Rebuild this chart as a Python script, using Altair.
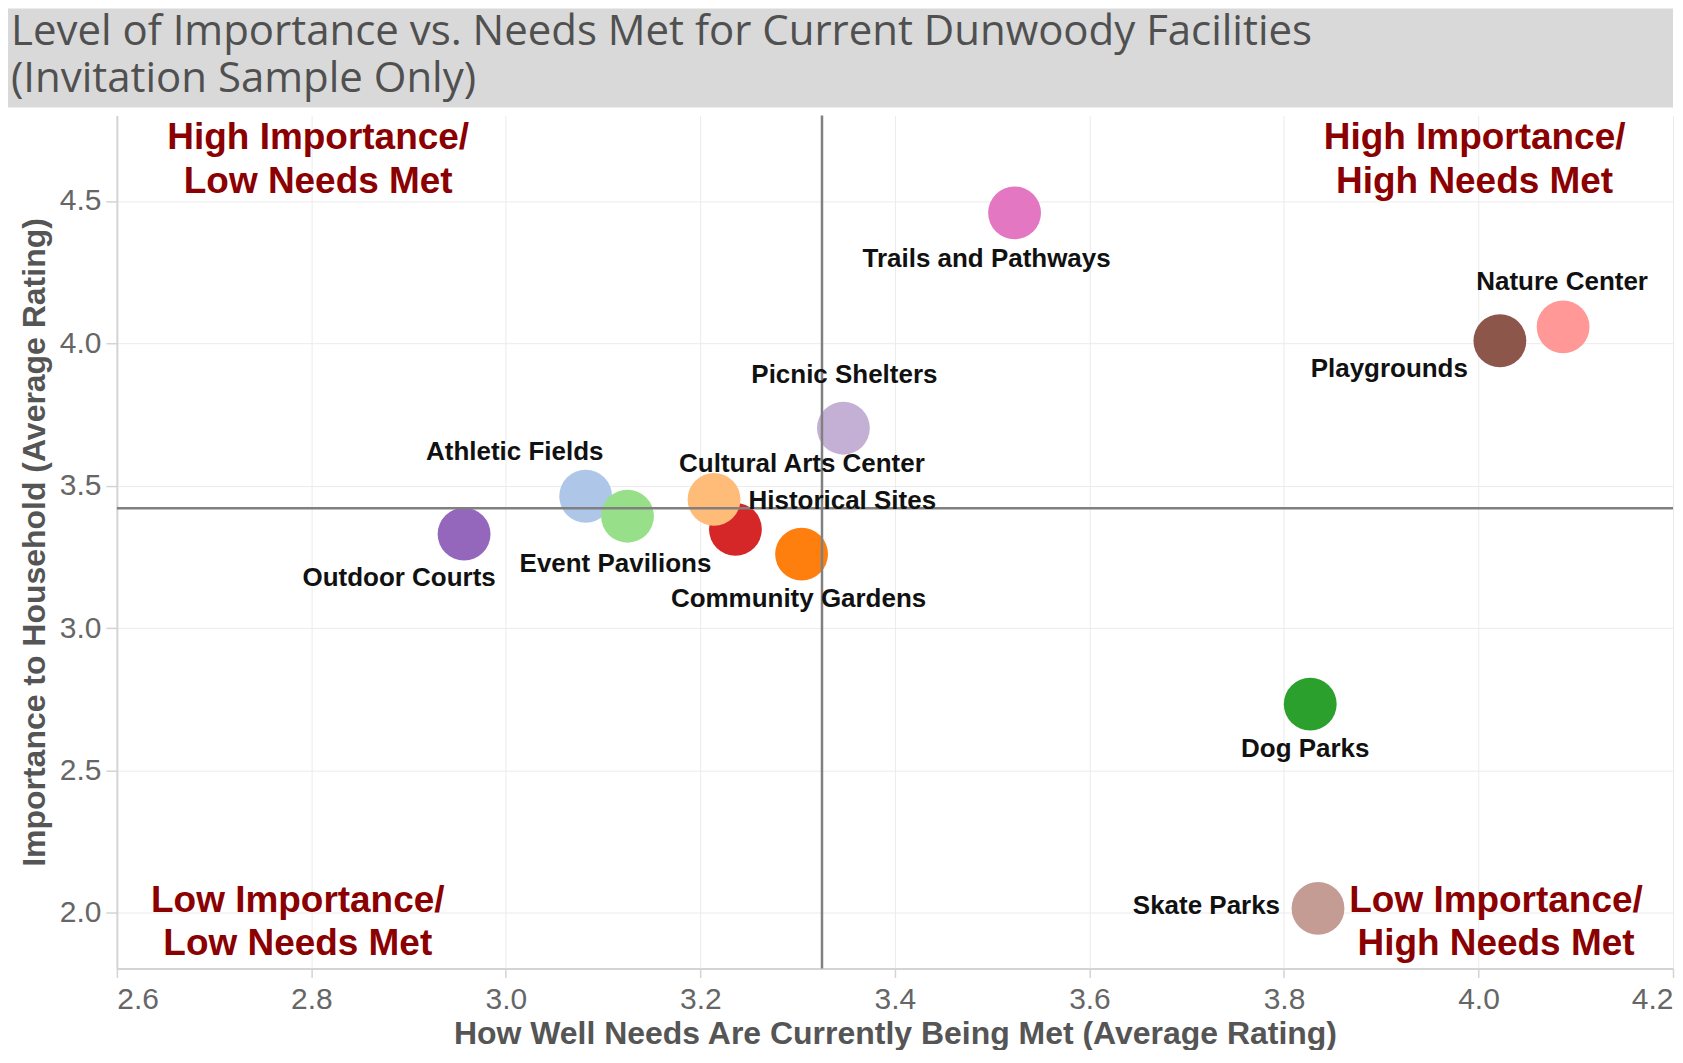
import altair as alt
import pandas as pd

# ---- data ----
facilities = ["Trails and Pathways", "Nature Center", "Playgrounds", "Picnic Shelters",
              "Athletic Fields", "Event Pavilions", "Outdoor Courts", "Historical Sites",
              "Cultural Arts Center", "Community Gardens", "Dog Parks", "Skate Parks"]
needs_met = [3.523, 4.087, 4.022, 3.347, 3.082, 3.125, 2.957, 3.236, 3.214, 3.304, 3.827, 3.835]
importance = [4.458, 4.058, 4.009, 3.702, 3.463, 3.393, 3.330, 3.347, 3.452, 3.260, 2.733, 2.016]
colors = ["#e377c2", "#ff9896", "#8c564b", "#c5b0d5", "#aec7e8", "#98df8a", "#9467bd",
          "#d62728", "#ffbb78", "#ff7f0e", "#2ca02c", "#c49c94"]

avg_needs_met = 3.325
avg_importance = 3.421

x_ticks = [2.6, 2.8, 3.0, 3.2, 3.4, 3.6, 3.8, 4.0, 4.2]
y_ticks = [2.0, 2.5, 3.0, 3.5, 4.0, 4.5]

quad_text = ["High Importance/\nLow Needs Met", "High Importance/\nHigh Needs Met",
             "Low Importance/\nLow Needs Met", "Low Importance/\nHigh Needs Met"]
quad_x = [2.807, 3.996, 2.786, 4.018]
quad_y = [4.682, 4.682, 2.005, 2.005]

title_lines = ["Level of Importance vs. Needs Met for Current Dunwoody Facilities",
               "(Invitation Sample Only)"]

# label placement (align, dx, dy) per facility
label_style = {
    "Trails and Pathways": ("center", -28, 46),
    "Nature Center": ("center", -1, -45),
    "Playgrounds": ("right", -32, 28),
    "Picnic Shelters": ("center", 1, -53),
    "Athletic Fields": ("center", -71, -44),
    "Event Pavilions": ("center", -12, 48),
    "Outdoor Courts": ("center", -65, 44),
    "Historical Sites": ("center", 107, -28),
    "Cultural Arts Center": ("center", 88, -35),
    "Community Gardens": ("center", -3, 45),
    "Dog Parks": ("center", -5, 45),
    "Skate Parks": ("right", -38, -2),
}

W, H = 1558, 854
X_DOM = [2.6, 4.2]
Y_DOM = [1.805, 4.8]

df = pd.DataFrame({"Facility": facilities, "Needs": needs_met,
                   "Importance": importance, "Color": colors})
qdf = pd.DataFrame({"t": quad_text, "x": quad_x, "y": quad_y})
one = pd.DataFrame({"a": [0]})

xs = alt.Scale(domain=X_DOM, nice=False, zero=False)
ys = alt.Scale(domain=Y_DOM, nice=False, zero=False)

band = alt.Chart(one).mark_rect(color="#d9d9d9").encode(
    x=alt.value(-109), x2=alt.value(W), y=alt.value(-107), y2=alt.value(-8))

title = alt.Chart(one).mark_text(
    text=title_lines, align="left", baseline="alphabetic", font="Open Sans",
    fontSize=42, lineHeight=47, color="#505050").encode(
    x=alt.value(-106), y=alt.value(-71))

points = alt.Chart(df).mark_circle(size=2800, opacity=1).encode(
    x=alt.X("Needs:Q", scale=xs,
            axis=alt.Axis(values=x_ticks, format=".1f", labelFlush=True,
                          title="How Well Needs Are Currently Being Met (Average Rating)",
                          tickSize=9, labelPadding=7, titlePadding=4)),
    y=alt.Y("Importance:Q", scale=ys,
            axis=alt.Axis(values=y_ticks, format=".1f",
                          title="Importance to Household (Average Rating)",
                          tickSize=11, labelPadding=5, titlePadding=8)),
    color=alt.Color("Color:N", scale=None),
)

vrule = alt.Chart(one).mark_rule(color="#808080", strokeWidth=2.5).encode(
    x=alt.X(datum=avg_needs_met))
hrule = alt.Chart(one).mark_rule(color="#808080", strokeWidth=2.5).encode(
    y=alt.Y(datum=avg_importance))

label_layers = []
for f in facilities:
    a, dx, dy = label_style[f]
    label_layers.append(
        alt.Chart(df).transform_filter(alt.datum.Facility == f).mark_text(
            align=a, baseline="middle", dx=dx, dy=dy, font="Liberation Sans",
            fontWeight="bold", fontSize=26, color="#111111").encode(
            x="Needs:Q", y="Importance:Q", text="Facility:N"))

quads = alt.Chart(qdf).mark_text(
    align="center", baseline="alphabetic", lineBreak="\n", lineHeight=44,
    font="Liberation Sans", fontWeight="bold", fontSize=37, color="#8b0000").encode(
    x="x:Q", y="y:Q", text="t:N")

chart = alt.layer(band, title, points, vrule, hrule, *label_layers, quads).properties(
    width=W, height=H, padding=0, background="white"
).configure_view(stroke=None).configure_axis(
    labelFont="Liberation Sans", labelFontSize=30, labelColor="#666666",
    titleFont="Liberation Sans", titleFontSize=32, titleFontWeight="bold",
    titleColor="#555555", gridColor="#ebebeb", gridWidth=1,
    domainColor="#d4d4d4", domainWidth=2, tickColor="#d4d4d4", tickWidth=1.5,
)

chart.save("out.html", embed_options={"renderer": "svg", "actions": False})
